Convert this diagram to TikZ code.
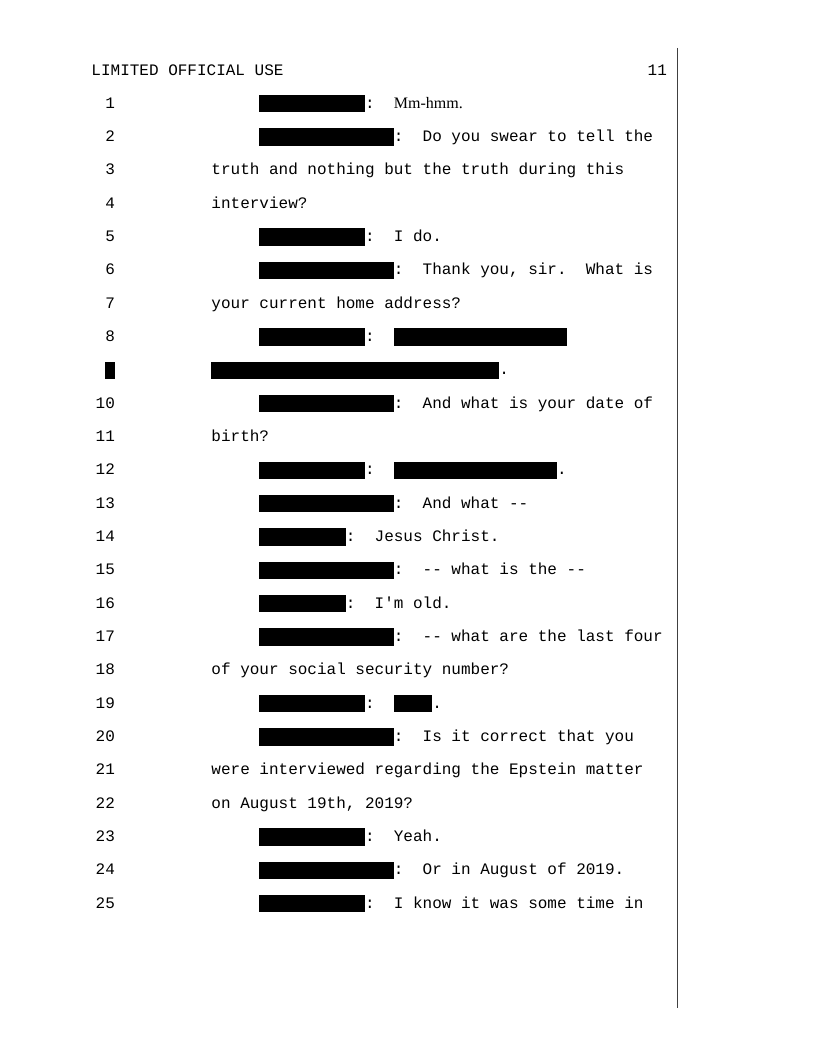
\documentclass[tikz,border=0pt]{standalone}
\usepackage{fontspec}
\setmainfont{Liberation Serif}
\setmonofont{Liberation Mono}
\definecolor{rand}{RGB}{64,64,64}
\newcommand{\rd}[1]{\rule[-3pt]{\dimexpr 7.2pt*#1\relax}{13pt}}
\newcommand{\lny}[1]{108.33+(#1-1)*33.333}

\begin{document}
\begin{tikzpicture}[x=0.75pt, y=-0.75pt,
    zeile/.style={inner sep=0pt, anchor=base west, font=\ttfamily\fontsize{12}{14}\selectfont},
    nummer/.style={inner sep=0pt, anchor=base east, font=\ttfamily\fontsize{12}{14}\selectfont}]

    \useasboundingbox (0,0) rectangle (816,1056);

    % kopf
    \node[zeile] (kopf) at (91.2,75) {LIMITED OFFICIAL USE};
    \node[nummer] (seite) at (667.2,75) {11};
    \coordinate (rand-oben) at (677,48);
    \coordinate (rand-unten) at (677,1008);
    \draw[rand, line width=0.75pt] (rand-oben) -- (rand-unten);

    % zeilennummern
    \foreach \i in {1,...,8,10,11,...,25}
        \node[nummer] (n\i) at (115.2,{\lny{\i}}) {\i};
    \node[nummer] (n9) at (115.2,{\lny{9}}) {\rd{1}};

    % text
    \node[zeile] (t1) at (259.2,{\lny{1}}) {\rd{11}:~~{\rmfamily Mm-hmm.}};
    \node[zeile] (t2) at (259.2,{\lny{2}}) {\rd{14}:~~Do you swear to tell the};
    \node[zeile] (t3) at (211.2,{\lny{3}}) {truth and nothing but the truth during this};
    \node[zeile] (t4) at (211.2,{\lny{4}}) {interview?};
    \node[zeile] (t5) at (259.2,{\lny{5}}) {\rd{11}:~~I do.};
    \node[zeile] (t6) at (259.2,{\lny{6}}) {\rd{14}:~~Thank you, sir.~~What is};
    \node[zeile] (t7) at (211.2,{\lny{7}}) {your current home address?};
    \node[zeile] (t8) at (259.2,{\lny{8}}) {\rd{11}:~~\rd{18}};
    \node[zeile] (t9) at (211.2,{\lny{9}}) {\rd{30}.};
    \node[zeile] (t10) at (259.2,{\lny{10}}) {\rd{14}:~~And what is your date of};
    \node[zeile] (t11) at (211.2,{\lny{11}}) {birth?};
    \node[zeile] (t12) at (259.2,{\lny{12}}) {\rd{11}:~~\rd{17}.};
    \node[zeile] (t13) at (259.2,{\lny{13}}) {\rd{14}:~~And what -{}-};
    \node[zeile] (t14) at (259.2,{\lny{14}}) {\rd{9}:~~Jesus Christ.};
    \node[zeile] (t15) at (259.2,{\lny{15}}) {\rd{14}:~~-{}- what is the -{}-};
    \node[zeile] (t16) at (259.2,{\lny{16}}) {\rd{9}:~~I'm old.};
    \node[zeile] (t17) at (259.2,{\lny{17}}) {\rd{14}:~~-{}- what are the last four};
    \node[zeile] (t18) at (211.2,{\lny{18}}) {of your social security number?};
    \node[zeile] (t19) at (259.2,{\lny{19}}) {\rd{11}:~~\rd{4}.};
    \node[zeile] (t20) at (259.2,{\lny{20}}) {\rd{14}:~~Is it correct that you};
    \node[zeile] (t21) at (211.2,{\lny{21}}) {were interviewed regarding the Epstein matter};
    \node[zeile] (t22) at (211.2,{\lny{22}}) {on August 19th, 2019?};
    \node[zeile] (t23) at (259.2,{\lny{23}}) {\rd{11}:~~Yeah.};
    \node[zeile] (t24) at (259.2,{\lny{24}}) {\rd{14}:~~Or in August of 2019.};
    \node[zeile] (t25) at (259.2,{\lny{25}}) {\rd{11}:~~I know it was some time in};

\end{tikzpicture}
\end{document}
